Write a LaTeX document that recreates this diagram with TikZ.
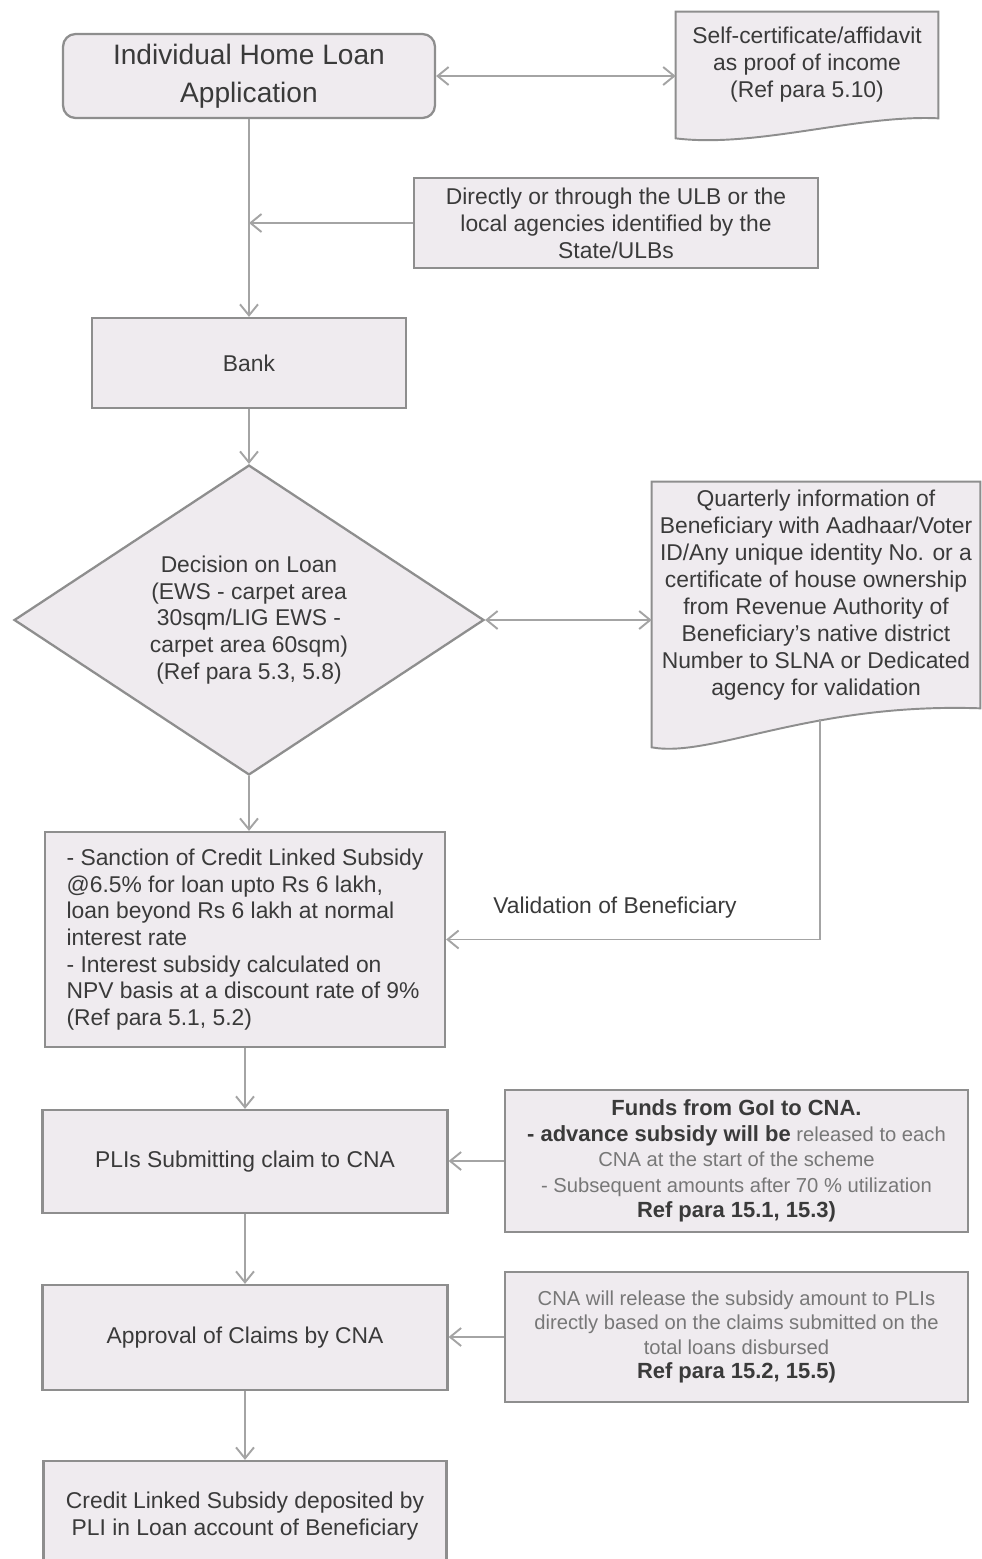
\documentclass[tikz,border=0pt]{standalone}
\usepackage{fontspec}
\setmainfont{Liberation Sans}
\usetikzlibrary{arrows.meta,shapes.geometric,calc,backgrounds}

\definecolor{boxfill}{HTML}{EFEBEF}
\definecolor{boxline}{HTML}{8E8E8E}
\definecolor{arrowline}{HTML}{A4A4A4}
\definecolor{txt}{HTML}{3A3A3A}
\definecolor{lighttxt}{HTML}{777777}

\newcommand{\keytext}[1]{{\fontsize{12.5}{14.5}\selectfont\bfseries\color{txt}#1}}

\tikzset{
  flowbox/.style={draw=boxline, line width=1.3pt, fill=boxfill, text=txt, align=center,
    font=\fontsize{13}{15.2}\selectfont, inner sep=0pt},
  docbox/.style={text=txt, align=center, font=\fontsize{13}{15.4}\selectfont, inner sep=0pt},
  docshape/.style={draw=boxline, line width=1.1pt, fill=boxfill},
  flow/.style={draw=arrowline, line width=1.1pt, -{Straight Barb[length=2.2mm,width=3.6mm]}},
  flowboth/.style={flow, {Straight Barb[length=2.2mm,width=3.6mm]}-{Straight Barb[length=2.2mm,width=3.6mm]}}
}

\begin{document}
\begin{tikzpicture}[x=0.02cm, y=-0.02cm]
  \useasboundingbox (0,0) rectangle (981,1559);

  % Main column
  \node[flowbox, rounded corners=0.25cm, minimum width=7.44cm, minimum height=1.68cm,
    font=\fontsize{16}{21.5}\selectfont] (app) at (249,76) {Individual Home Loan\\Application};
  \node[flowbox, minimum width=6.28cm, minimum height=1.8cm] (bank) at (249,363) {Bank};
  \node[flowbox, diamond, aspect=1.5, minimum width=9.4cm, minimum height=6.2cm] (dec) at (249,620)
    {Decision on Loan\\(EWS - carpet area\\30sqm/LIG EWS -\\carpet area 60sqm)\\(Ref para 5.3, 5.8)};
  \node[flowbox, align=left, minimum width=8cm, minimum height=4.3cm] (sanc) at (245,939.5)
    {- Sanction of Credit Linked Subsidy\\@6.5\% for loan upto Rs 6 lakh,\\loan beyond Rs 6 lakh at normal\\interest rate\\- Interest subsidy calculated on\\NPV basis at a discount rate of 9\%\\(Ref para 5.1, 5.2)};
  \node[flowbox, minimum width=8.1cm, minimum height=2.06cm] (claim) at (245,1161.5) {PLIs Submitting claim to CNA};
  \node[flowbox, minimum width=8.1cm, minimum height=2.1cm] (approve) at (245,1337.5) {Approval of Claims by CNA};
  \node[flowbox, minimum width=8.06cm, minimum height=2.2cm] (deposit) at (245,1516)
    {Credit Linked Subsidy deposited by\\PLI in Loan account of Beneficiary};

  % Side boxes
  \node[docbox, minimum width=5.24cm, minimum height=2.12cm] (proof) at (807,65)
    {Self-certificate/affidavit\\as proof of income\\(Ref para 5.10)};
  \node[flowbox, minimum width=8.08cm, minimum height=1.8cm, font=\fontsize{13}{15.4}\selectfont] (route) at (616,223)
    {Directly or through the ULB or the\\local agencies identified by the\\State/ULBs};
  \node[docbox, minimum width=6.56cm, minimum height=4.52cm] (qinfo) at (816,595)
    {Quarterly information of\\Beneficiary with Aadhaar/Voter\\ID/Any unique identity No. or a\\certificate of house ownership\\from Revenue Authority of\\Beneficiary's native district\\Number to SLNA or Dedicated\\agency for validation};
  \node[flowbox, minimum width=9.26cm, minimum height=2.84cm, text=lighttxt,
    font=\fontsize{11.5}{14.5}\selectfont] (funds) at (736.5,1161)
    {\keytext{Funds from GoI to CNA.}\\\keytext{- advance subsidy will be} released to each\\CNA at the start of the scheme\\- Subsequent amounts after 70 \% utilization\\\keytext{Ref para 15.1, 15.3)}};
  \node[flowbox, minimum width=9.26cm, minimum height=2.6cm, text=lighttxt,
    font=\fontsize{11.5}{13.9}\selectfont] (release) at (736.5,1337)
    {CNA will release the subsidy amount to PLIs\\directly based on the claims submitted on the\\total loans disbursed\\\keytext{Ref para 15.2, 15.5)}};
  \node[text=txt, font=\fontsize{13}{15}\selectfont] (vlabel) at (615,908) {Validation of Beneficiary};

  % Document outlines
  \begin{scope}[on background layer]
    \draw[docshape] (proof.south east) -- (proof.north east) -- (proof.north west)
      -- ($(proof.south west)+(0,20)$)
      .. controls ($(proof.south west)+(80,30)$) and ($(proof.south east)+(-80,-4)$) .. (proof.south east) -- cycle;
    \draw[docshape] (qinfo.south east) -- (qinfo.north east) -- (qinfo.north west)
      -- ($(qinfo.south west)+(0,39)$)
      .. controls ($(qinfo.south west)+(60,50)$) and ($(qinfo.south east)+(-170,-6)$) .. (qinfo.south east) -- cycle;
  \end{scope}

  % Connectors
  \coordinate (qfoot) at (820,719);
  \draw[flowboth] (app.east) -- (app.east -| proof.west);
  \draw[flow] (app.south) -- (bank.north);
  \draw[flow] (route.west) -- (route.west -| app.south);
  \draw[flow] (bank.south) -- (dec.north);
  \draw[flowboth] (dec.east) -- (dec.east -| qinfo.west);
  \draw[flow] (dec.south) -- (dec.south |- sanc.north);
  \draw[flow] (qfoot) |- (sanc.east);
  \draw[flow] (sanc.south) -- (claim.north);
  \draw[flow] (funds.west) -- (funds.west -| claim.east);
  \draw[flow] (claim.south) -- (approve.north);
  \draw[flow] (release.west) -- (release.west -| approve.east);
  \draw[flow] (approve.south) -- (deposit.north);
\end{tikzpicture}
\end{document}
